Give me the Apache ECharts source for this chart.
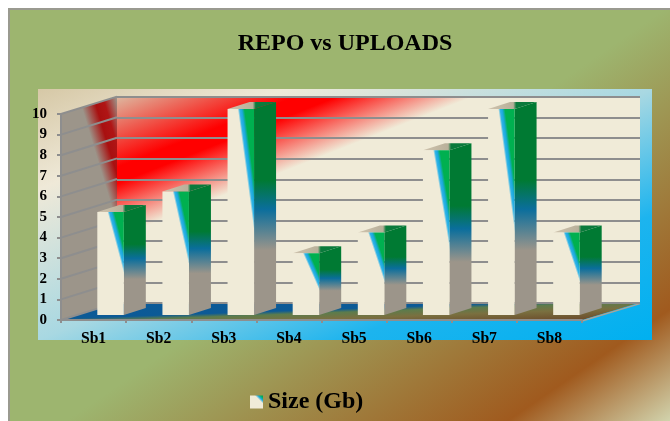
<!DOCTYPE html>
<html>
<head>
<meta charset="utf-8">
<title>REPO vs UPLOADS</title>
<script src="https://cdn.jsdelivr.net/npm/echarts@6/dist/echarts.min.js"></script>
<style>
  html, body { margin: 0; padding: 0; background: #fff; }
  #chart { width: 670px; height: 421px; }
</style>
</head>
<body>
<div id="chart"></div>
<script>
// Repository size per subject
const categories = ['Sb1', 'Sb2', 'Sb3', 'Sb4', 'Sb5', 'Sb6', 'Sb7', 'Sb8'];
const sizes = [5, 6, 10, 3, 4, 8, 10, 4];
const tickValues = [0, 1, 2, 3, 4, 5, 6, 7, 8, 9, 10];
const seriesName = 'Size (Gb)';
const chartTitle = 'REPO vs UPLOADS';

// Projection of the box: how far the back wall sits from the front plane
const DEPTH = { x: 56, y: -17.4, rightX: 58 };
// Bars stand part-way into the floor and have their own shallower depth
const BAR = { width: 26.5, shiftX: 17, shiftY: -5, depthX: 22, depthY: -7 };
const SERIF = '"Liberation Serif", "Times New Roman", serif';
const CREAM = '#F0EBD8';
const GREY = '#9C958A';
const LINE = '#8E8E8E';

function globalGradient(x, y, x2, y2, stops) {
  return {
    type: 'linear', x, y, x2, y2, global: true,
    colorStops: stops.map(([offset, color]) => ({ offset, color }))
  };
}

function poly(points, fill, extra) {
  return Object.assign({ type: 'polygon', shape: { points }, style: { fill }, silent: true }, extra || {});
}

// Side wall and floor, spanned from the front plane into the depth
function renderWalls(params, api) {
  const half = api.size([1, 0])[0] / 2;
  const left = api.coord([categories[0], 0])[0] - half;
  const right = api.coord([categories[categories.length - 1], 0])[0] + half;
  const y0 = api.coord([categories[0], 0])[1];
  const yMax = api.coord([categories[0], tickValues[tickValues.length - 1]])[1];
  const children = [];

  children.push(poly(
    [[left, yMax], [left + DEPTH.x, yMax + DEPTH.y], [left + DEPTH.x, y0 + DEPTH.y], [left, y0]],
    globalGradient(61, 114, 122.6, 95.5, [
      [0, GREY], [0.34, GREY], [0.56, '#A81010'], [0.7, '#B01515'], [0.9, GREY], [1, GREY]
    ])
  ));
  children.push(poly(
    [[left, y0], [right, y0], [right + DEPTH.rightX, y0 + DEPTH.y], [left + DEPTH.x, y0 + DEPTH.y]],
    globalGradient(300, 296, 301.2, 330, [
      [0, '#0A5A98'], [0.42, '#0C5A96'], [0.52, '#5C7C4C'], [0.7, '#7A7040'], [1, '#6B4A2A']
    ])
  ));
  // Lighter edge on the right of the floor
  children.push({
    type: 'line', silent: true,
    shape: { x1: right, y1: y0 + 1, x2: right + DEPTH.rightX, y2: y0 + DEPTH.y + 1 },
    style: { stroke: '#A8A49A', lineWidth: 1.5 }
  });
  tickValues.forEach((v) => {
    const y = api.coord([categories[0], v])[1];
    children.push({
      type: 'line', silent: true,
      shape: { x1: left, y1: y, x2: left + DEPTH.x, y2: y + DEPTH.y },
      style: { stroke: LINE, lineWidth: 2 }
    });
  });
  return { type: 'group', children };
}

// Back wall, with the red sweep across its upper left
function renderBackWall(params, api) {
  const half = api.size([1, 0])[0] / 2;
  const left = api.coord([categories[0], 0])[0] - half;
  const right = api.coord([categories[categories.length - 1], 0])[0] + half;
  const y0 = api.coord([categories[0], 0])[1];
  const yMax = api.coord([categories[0], tickValues[tickValues.length - 1]])[1];
  return poly(
    [[left, yMax], [right, yMax], [right, y0], [left, y0]],
    globalGradient(117, 97, 258, 454, [
      [0, '#DDB8A0'], [0.17, '#FF0000'], [0.21, '#FF0000'], [0.34, CREAM], [1, CREAM]
    ])
  );
}

// One extruded column: front, side and top faces
function renderBar(params, api) {
  const name = categories[api.value(0)];
  const value = api.value(1);
  const base = api.coord([name, 0]);
  const top = api.coord([name, value]);
  const x0 = base[0] + BAR.shiftX - BAR.width / 2;
  const x1 = x0 + BAR.width;
  const yb = base[1] + BAR.shiftY;
  const yt = top[1] + BAR.shiftY;
  const h = yb - yt;
  const w = BAR.width;

  // The cream-to-green sweep on the front face scales with the column
  const gx = x0 + 0.38 * w;
  const nx = 0.6 * h;
  const ny = -0.62 * w;
  const len = Math.hypot(nx, ny);
  const dist = 0.62 * w * 0.6 * h / len;
  const frontFill = globalGradient(gx, yt, gx + nx / len * dist, yt + ny / len * dist, [
    [0, CREAM], [0.12, '#30B4E8'], [0.25, '#1AA8DC'], [0.42, '#00B050'], [1, '#00B050']
  ]);
  const sideFill = globalGradient(0, yt + BAR.depthY, 0, yb + BAR.depthY, [
    [0, '#007A33'], [0.38, '#007A33'], [0.52, '#0A6E9C'], [0.72, GREY], [1, GREY]
  ]);
  const topFill = globalGradient(x0, 0, x1 + BAR.depthX, 0, [
    [0, '#CFC3AE'], [0.52, '#B8B09A'], [0.58, '#0A7A3C'], [1, '#0A7A3C']
  ]);

  return {
    type: 'group',
    children: [
      poly([[x1, yt], [x1 + BAR.depthX, yt + BAR.depthY], [x1 + BAR.depthX, yb + BAR.depthY], [x1, yb]], sideFill),
      poly([[x0, yt], [x0 + BAR.depthX, yt + BAR.depthY], [x1 + BAR.depthX, yt + BAR.depthY], [x1, yt]], topFill),
      poly([[x0, yt], [x1, yt], [x1, yb], [x0, yb]], frontFill)
    ]
  };
}

const chart = echarts.init(document.getElementById('chart'), null, { renderer: 'canvas' });

chart.setOption({
  animation: false,
  backgroundColor: '#ffffff',
  title: {
    text: chartTitle,
    left: 340,
    top: 27,
    textAlign: 'center',
    textStyle: { fontFamily: SERIF, fontWeight: 'bold', fontSize: 24, color: '#000' }
  },
  legend: {
    left: 245,
    top: 385,
    itemWidth: 13,
    itemHeight: 13,
    selectedMode: false,
    textStyle: { fontFamily: SERIF, fontWeight: 'bold', fontSize: 24, color: '#000' },
    data: [{
      name: seriesName,
      icon: 'rect',
      itemStyle: {
        color: {
          type: 'linear', x: 0, y: 1, x2: 1, y2: 0,
          colorStops: [
            { offset: 0, color: CREAM }, { offset: 0.68, color: CREAM },
            { offset: 0.8, color: '#1AA8DC' }, { offset: 0.92, color: '#00B050' }, { offset: 1, color: '#00A060' }
          ]
        }
      }
    }]
  },
  grid: [
    { left: 61, top: 114, width: 521, height: 206 },
    { left: 117, top: 97, width: 523, height: 206 }
  ],
  xAxis: [
    {
      type: 'category', gridIndex: 0, data: categories,
      axisLine: { lineStyle: { color: LINE, width: 2 } },
      axisTick: { show: true, length: 3, lineStyle: { color: LINE, width: 2 } },
      axisLabel: { margin: 11, color: '#000', fontFamily: SERIF, fontWeight: 'bold', fontSize: 15.7, interval: 0 },
      splitLine: { show: false }
    },
    { type: 'category', gridIndex: 1, data: categories, show: false }
  ],
  yAxis: [
    {
      type: 'value', gridIndex: 0, min: 0, max: 10, interval: 1,
      axisLine: { show: true, lineStyle: { color: LINE, width: 2 } },
      axisTick: { show: true, length: 4, lineStyle: { color: LINE, width: 2 } },
      axisLabel: { margin: 14, color: '#000', fontFamily: SERIF, fontWeight: 'bold', fontSize: 15 },
      splitLine: { show: false }
    },
    {
      type: 'value', gridIndex: 1, min: 0, max: 10, interval: 1, z: -5,
      axisLine: { show: false }, axisTick: { show: false }, axisLabel: { show: false },
      splitLine: { show: true, lineStyle: { color: LINE, width: 2 } }
    }
  ],
  series: [
    {
      name: 'walls', type: 'custom', coordinateSystem: 'cartesian2d',
      xAxisIndex: 0, yAxisIndex: 0, z: -8, silent: true, clip: false,
      renderItem: renderWalls, data: [[0, 0]]
    },
    {
      name: 'back wall', type: 'custom', coordinateSystem: 'cartesian2d',
      xAxisIndex: 1, yAxisIndex: 1, z: -9, silent: true, clip: false,
      renderItem: renderBackWall, data: [[0, 0]]
    },
    {
      name: seriesName, type: 'custom', coordinateSystem: 'cartesian2d',
      xAxisIndex: 0, yAxisIndex: 0, z: 5, clip: false,
      renderItem: renderBar,
      encode: { x: 0, y: 1 },
      data: sizes.map((v, i) => [i, v])
    }
  ],
  graphic: [
    {
      type: 'rect', z: -30, silent: true,
      // Runs past the right and bottom edges so only the top and left borders show
      shape: { x: 9, y: 9, width: 670, height: 420 },
      style: {
        stroke: '#9A9A90', lineWidth: 2,
        fill: globalGradient(9, 9, 414, 598, [
          [0, '#9DB56F'], [0.52, '#9DB56F'], [0.87, '#A05A1E'], [1, '#D2D4AE']
        ])
      }
    },
    {
      type: 'rect', z: -20, silent: true,
      shape: { x: 38, y: 89, width: 614, height: 251 },
      style: {
        fill: globalGradient(38, 89, 214, 520, [
          [0, '#D6C8A6'], [0.2, '#EFE9D8'], [0.5, '#A8D8E2'], [0.75, '#1DB4EE'], [1, '#00B0F0']
        ])
      }
    }
  ]
});
</script>
</body>
</html>
